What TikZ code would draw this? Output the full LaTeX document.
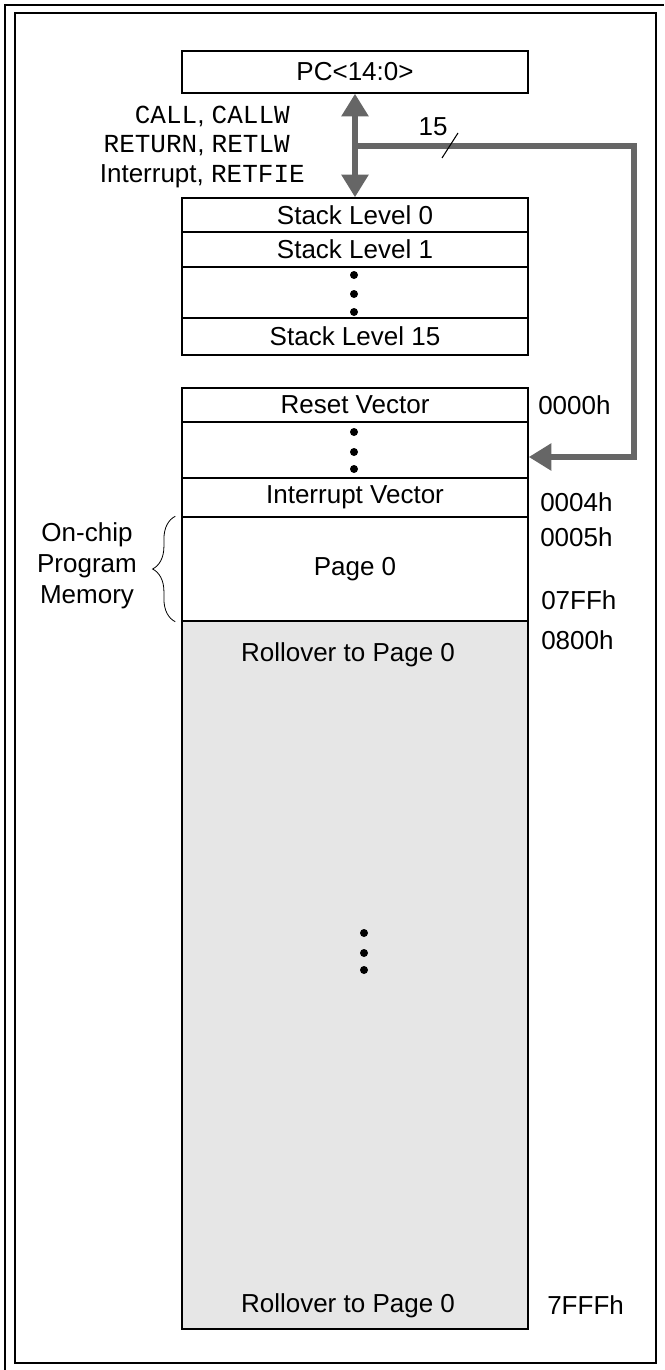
\documentclass[tikz,border=0pt]{standalone}
\usepackage{fontspec}
\setmainfont{Liberation Sans}
\setmonofont{Liberation Mono}
\usetikzlibrary{arrows.meta,decorations.pathreplacing}

\definecolor{busgray}{RGB}{102,102,102}
\definecolor{rollfill}{RGB}{230,230,230}

\newcommand{\opc}[1]{{\ttfamily #1}}

\tikzset{
  cell/.style={draw, line width=1.1pt, minimum width=259.5pt, inner sep=0pt},
  bus/.style={draw=busgray, line width=5pt, line join=miter},
  bustip/.tip={Triangle[length=17pt, width=19.5pt]},
  vdot/.style={fill, circle, inner sep=0pt, minimum size=6pt},
  addr/.style={anchor=west, inner sep=0pt},
}

\begin{document}
\begin{tikzpicture}[x=0.75pt, y=-0.75pt, font=\fontsize{19.5}{23.25}\selectfont]
  \useasboundingbox (0,0) rectangle (664,1370);
  % frame
  \draw[line width=1.6pt] (4,5) -- (664,5);
  \draw[line width=1.6pt] (5,4) -- (5,1370);
  \draw[line width=1.1pt] (15,13) rectangle (656,1363);

  % program counter
  \node[cell, minimum height=31.5pt] (pc) at (355,72) {PC<14:0>};

  % hardware stack
  \node[cell, minimum height=25.5pt]  (lvl0)  at (355,215)   {Stack Level 0};
  \node[cell, minimum height=26.25pt] (lvl1)  at (355,249.5) {Stack Level 1};
  \node[cell, minimum height=38.25pt] (lvldots) at (355,292.5) {};
  \node[cell, minimum height=27.75pt] (lvl15) at (355,336.5) {Stack Level 15};
  \foreach \y in {275,294,312}
    \node[vdot] at (354,\y) {};

  % program memory map
  \node[cell, minimum height=25.5pt]  (reset)   at (355,405)   {Reset Vector};
  \node[cell, minimum height=42pt]    (memdots) at (355,450)   {};
  \node[cell, minimum height=29.25pt] (intvec)  at (355,497.5) {Interrupt Vector};
  \node[cell, minimum height=78pt]    (page0)   at (355,569)   {Page 0};
  \node[cell, minimum height=531pt, fill=rollfill] (roll) at (355,975) {};
  \foreach \y in {432,452,469}
    \node[vdot] at (354,\y) {};
  \foreach \y in {933,953,970}
    \node[vdot] at (364,\y) {};
  \node (rolltop) at (348,655)  {Rollover to Page 0};
  \node (rollbot) at (348,1306) {Rollover to Page 0};

  % addresses
  \node[addr] (a0000) at (538,405)  {0000h};
  \node[addr] (a0004) at (540,502)  {0004h};
  \node[addr] (a0005) at (540,537)  {0005h};
  \node[addr] (a07ff) at (541,600)  {07FFh};
  \node[addr] (a0800) at (541,640)  {0800h};
  \node[addr] (a7fff) at (547,1305) {7FFFh};

  % stack push/pop
  \draw[bus, bustip-bustip] (pc.south) -- (lvl0.north);
  \node[anchor=east, inner sep=0pt] (lblcall) at (290,116) {\opc{CALL}, \opc{CALLW}};
  \node[anchor=east, inner sep=0pt] (lblret)  at (290,146) {\opc{RETURN}, \opc{RETLW}};
  \node[anchor=east, inner sep=0pt] (lblint)  at (305,176) {Interrupt, \opc{RETFIE}};

  % 15-bit path to program memory
  \coordinate (bend) at (634,146);
  \coordinate (tap) at (pc.south |- bend);
  \draw[bus, -bustip] (tap) -- (bend) |- ([yshift=-5.25pt]memdots.east);
  \draw[line width=0.8pt] (442,158) -- (458,133);
  \node (buswidth) at (433,127) {15};

  % on-chip memory brace
  \draw[line width=0.6pt, decorate, decoration={brace, amplitude=17pt}]
    ([xshift=-4.5pt]page0.south west) -- ([xshift=-4.5pt]page0.north west);
  \node[align=center, inner sep=0pt] (onchip) at (87,566) {On-chip\\Program\\Memory};
\end{tikzpicture}
\end{document}
